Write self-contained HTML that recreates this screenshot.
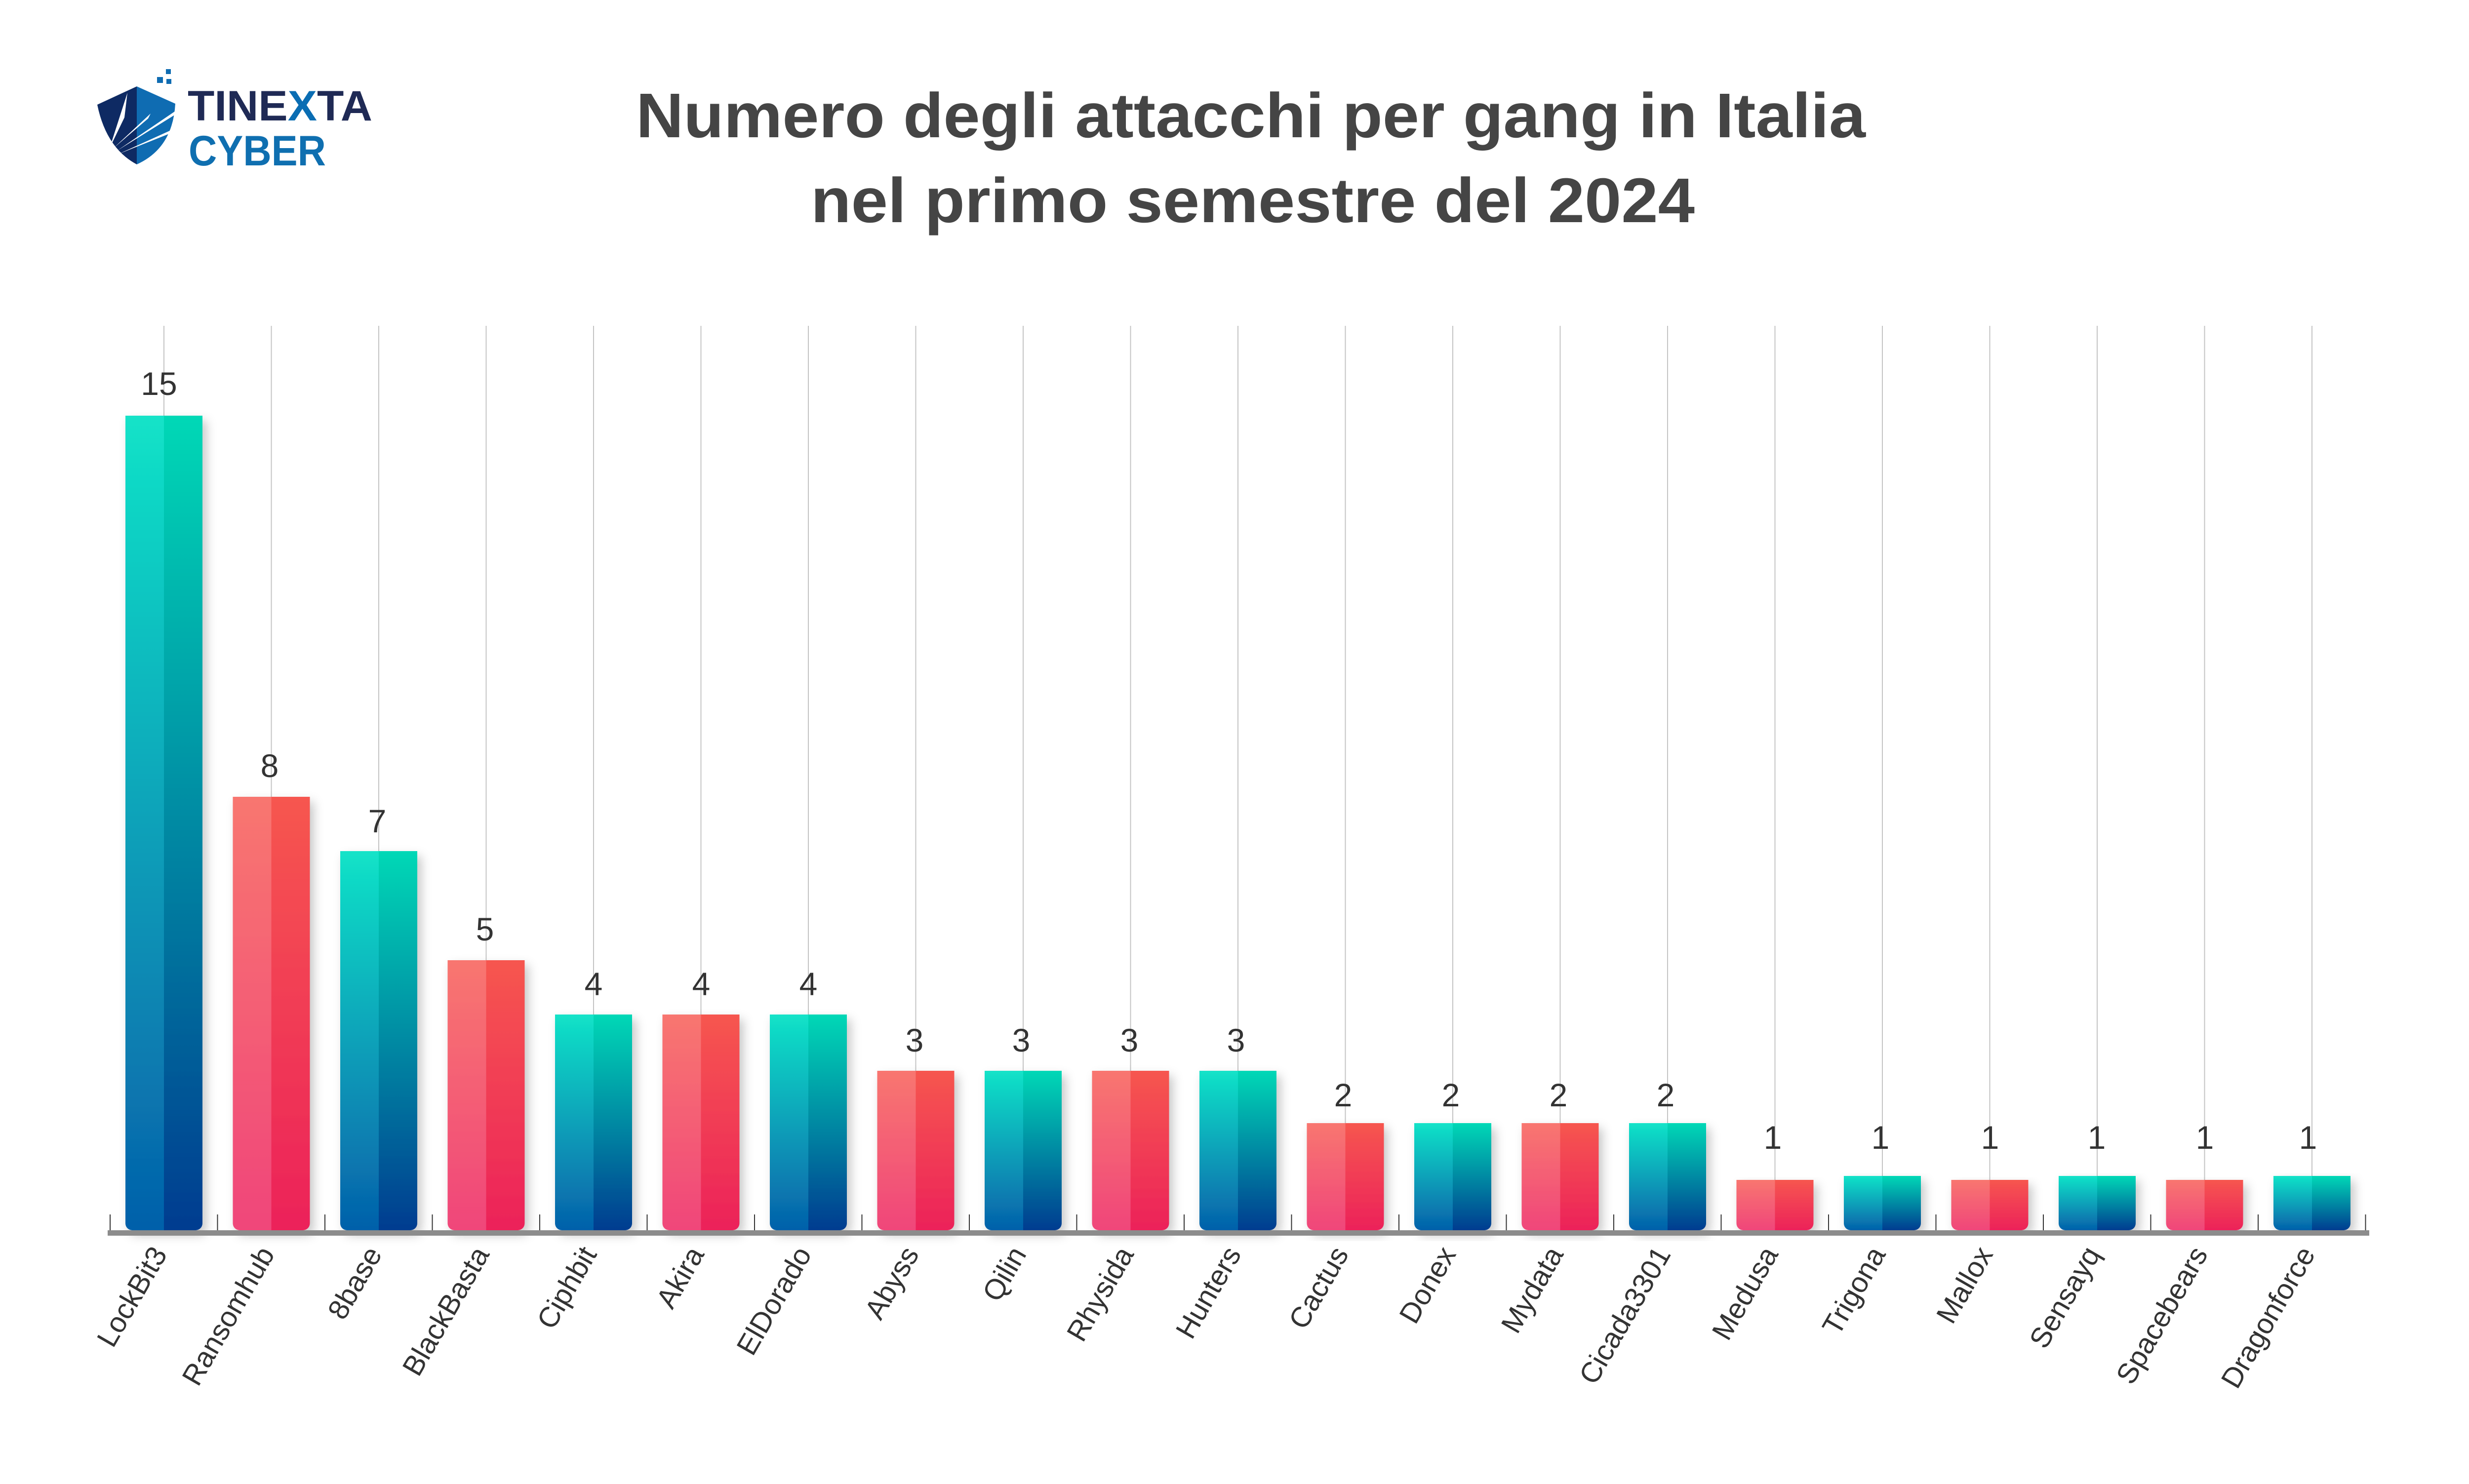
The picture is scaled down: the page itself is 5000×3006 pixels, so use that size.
<!DOCTYPE html>
<html><head><meta charset="utf-8"><style>
html,body{margin:0;padding:0;background:#fff;}
svg{display:block;}
</style></head><body>
<svg width="5000" height="3006" viewBox="0 0 5000 3006" xmlns="http://www.w3.org/2000/svg" font-family="'Liberation Sans', sans-serif">
<defs>
<linearGradient id="tL" x1="0" y1="0" x2="0" y2="1"><stop offset="0" stop-color="#12e3c8"/><stop offset="1" stop-color="#0560aa"/></linearGradient>
<linearGradient id="tR" x1="0" y1="0" x2="0" y2="1"><stop offset="0" stop-color="#06d8b6"/><stop offset="1" stop-color="#013c90"/></linearGradient>
<linearGradient id="pL" x1="0" y1="0" x2="0" y2="1"><stop offset="0" stop-color="#f87670"/><stop offset="1" stop-color="#f0467a"/></linearGradient>
<linearGradient id="pR" x1="0" y1="0" x2="0" y2="1"><stop offset="0" stop-color="#f6564f"/><stop offset="1" stop-color="#ec225a"/></linearGradient>
<filter id="sh" x="-20%" y="-5%" width="150%" height="115%"><feDropShadow dx="8" dy="10" stdDeviation="10" flood-color="#000" flood-opacity="0.22"/></filter>
<clipPath id="c0"><rect x="-78" y="-2000" width="156" height="2000" rx="14"/></clipPath>
</defs>

<g>
<path d="M197 212 L277 175 L277 333 Q215 300 197 212 Z" fill="#0e2a63"/>
<path d="M277 175 L355 210 Q350 300 277 333 Z" fill="#0f6cb2"/>
<path d="M222 362 L258 250 L252 300 Z" fill="#fff" transform="translate(0,-62)"/>
<path d="M230 300 L305 230 L300 240 Z" fill="#fff"/>
<path d="M236 306 L355 225 L355 232 Z" fill="#fff"/>
<path d="M240 312 L350 262 L350 268 Z" fill="#fff"/>
<rect x="318" y="156" width="12" height="12" fill="#0f6cb2"/>
<rect x="336" y="140" width="10" height="10" fill="#0f6cb2"/>
<rect x="337" y="160" width="10" height="10" fill="#0f6cb2"/>
<rect x="325" y="180" width="12" height="12" fill="#fff"/>
<text x="380" y="244" font-size="86" font-weight="bold" fill="#1f2a55" textLength="374" lengthAdjust="spacingAndGlyphs">TINE<tspan fill="#0a6db3">X</tspan>TA</text>
<text x="382" y="335" font-size="86" font-weight="bold" fill="#0f6fb0" textLength="278" lengthAdjust="spacingAndGlyphs">CYBER</text>
</g>

<text x="1288" y="278" font-size="128" font-weight="bold" fill="#454545" textLength="2490" lengthAdjust="spacingAndGlyphs">Numero degli attacchi per gang in Italia</text>
<text x="1642" y="450" font-size="128" font-weight="bold" fill="#454545" textLength="1790" lengthAdjust="spacingAndGlyphs">nel primo semestre del 2024</text>

<g stroke="#c4c4c4" stroke-width="2">
<line x1="332" y1="660" x2="332" y2="2492"/><line x1="549.5" y1="660" x2="549.5" y2="2492"/><line x1="767" y1="660" x2="767" y2="2492"/><line x1="984.5" y1="660" x2="984.5" y2="2492"/><line x1="1202" y1="660" x2="1202" y2="2492"/><line x1="1419.5" y1="660" x2="1419.5" y2="2492"/><line x1="1637" y1="660" x2="1637" y2="2492"/><line x1="1854.5" y1="660" x2="1854.5" y2="2492"/><line x1="2072" y1="660" x2="2072" y2="2492"/><line x1="2289.5" y1="660" x2="2289.5" y2="2492"/><line x1="2507" y1="660" x2="2507" y2="2492"/><line x1="2724.5" y1="660" x2="2724.5" y2="2492"/><line x1="2942" y1="660" x2="2942" y2="2492"/><line x1="3159.5" y1="660" x2="3159.5" y2="2492"/><line x1="3377" y1="660" x2="3377" y2="2492"/><line x1="3594.5" y1="660" x2="3594.5" y2="2492"/><line x1="3812" y1="660" x2="3812" y2="2492"/><line x1="4029.5" y1="660" x2="4029.5" y2="2492"/><line x1="4247" y1="660" x2="4247" y2="2492"/><line x1="4464.5" y1="660" x2="4464.5" y2="2492"/><line x1="4682" y1="660" x2="4682" y2="2492"/>
</g>

<g id="bars">
<g transform="translate(332,2492)" filter="url(#sh)"><g clip-path="url(#c0)"><rect x="-78" y="-1650" width="78" height="1650" fill="url(#tL)"/><rect x="0" y="-1650" width="78" height="1650" fill="url(#tR)"/></g></g>
<g transform="translate(549.5,2492)" filter="url(#sh)"><g clip-path="url(#c0)"><rect x="-78" y="-878" width="78" height="878" fill="url(#pL)"/><rect x="0" y="-878" width="78" height="878" fill="url(#pR)"/></g></g>
<g transform="translate(767,2492)" filter="url(#sh)"><g clip-path="url(#c0)"><rect x="-78" y="-768" width="78" height="768" fill="url(#tL)"/><rect x="0" y="-768" width="78" height="768" fill="url(#tR)"/></g></g>
<g transform="translate(984.5,2492)" filter="url(#sh)"><g clip-path="url(#c0)"><rect x="-78" y="-547" width="78" height="547" fill="url(#pL)"/><rect x="0" y="-547" width="78" height="547" fill="url(#pR)"/></g></g>
<g transform="translate(1202,2492)" filter="url(#sh)"><g clip-path="url(#c0)"><rect x="-78" y="-437" width="78" height="437" fill="url(#tL)"/><rect x="0" y="-437" width="78" height="437" fill="url(#tR)"/></g></g>
<g transform="translate(1419.5,2492)" filter="url(#sh)"><g clip-path="url(#c0)"><rect x="-78" y="-437" width="78" height="437" fill="url(#pL)"/><rect x="0" y="-437" width="78" height="437" fill="url(#pR)"/></g></g>
<g transform="translate(1637,2492)" filter="url(#sh)"><g clip-path="url(#c0)"><rect x="-78" y="-437" width="78" height="437" fill="url(#tL)"/><rect x="0" y="-437" width="78" height="437" fill="url(#tR)"/></g></g>
<g transform="translate(1854.5,2492)" filter="url(#sh)"><g clip-path="url(#c0)"><rect x="-78" y="-323" width="78" height="323" fill="url(#pL)"/><rect x="0" y="-323" width="78" height="323" fill="url(#pR)"/></g></g>
<g transform="translate(2072,2492)" filter="url(#sh)"><g clip-path="url(#c0)"><rect x="-78" y="-323" width="78" height="323" fill="url(#tL)"/><rect x="0" y="-323" width="78" height="323" fill="url(#tR)"/></g></g>
<g transform="translate(2289.5,2492)" filter="url(#sh)"><g clip-path="url(#c0)"><rect x="-78" y="-323" width="78" height="323" fill="url(#pL)"/><rect x="0" y="-323" width="78" height="323" fill="url(#pR)"/></g></g>
<g transform="translate(2507,2492)" filter="url(#sh)"><g clip-path="url(#c0)"><rect x="-78" y="-323" width="78" height="323" fill="url(#tL)"/><rect x="0" y="-323" width="78" height="323" fill="url(#tR)"/></g></g>
<g transform="translate(2724.5,2492)" filter="url(#sh)"><g clip-path="url(#c0)"><rect x="-78" y="-217" width="78" height="217" fill="url(#pL)"/><rect x="0" y="-217" width="78" height="217" fill="url(#pR)"/></g></g>
<g transform="translate(2942,2492)" filter="url(#sh)"><g clip-path="url(#c0)"><rect x="-78" y="-217" width="78" height="217" fill="url(#tL)"/><rect x="0" y="-217" width="78" height="217" fill="url(#tR)"/></g></g>
<g transform="translate(3159.5,2492)" filter="url(#sh)"><g clip-path="url(#c0)"><rect x="-78" y="-217" width="78" height="217" fill="url(#pL)"/><rect x="0" y="-217" width="78" height="217" fill="url(#pR)"/></g></g>
<g transform="translate(3377,2492)" filter="url(#sh)"><g clip-path="url(#c0)"><rect x="-78" y="-217" width="78" height="217" fill="url(#tL)"/><rect x="0" y="-217" width="78" height="217" fill="url(#tR)"/></g></g>
<g transform="translate(3594.5,2492)" filter="url(#sh)"><g clip-path="url(#c0)"><rect x="-78" y="-102" width="78" height="102" fill="url(#pL)"/><rect x="0" y="-102" width="78" height="102" fill="url(#pR)"/></g></g>
<g transform="translate(3812,2492)" filter="url(#sh)"><g clip-path="url(#c0)"><rect x="-78" y="-110" width="78" height="110" fill="url(#tL)"/><rect x="0" y="-110" width="78" height="110" fill="url(#tR)"/></g></g>
<g transform="translate(4029.5,2492)" filter="url(#sh)"><g clip-path="url(#c0)"><rect x="-78" y="-102" width="78" height="102" fill="url(#pL)"/><rect x="0" y="-102" width="78" height="102" fill="url(#pR)"/></g></g>
<g transform="translate(4247,2492)" filter="url(#sh)"><g clip-path="url(#c0)"><rect x="-78" y="-110" width="78" height="110" fill="url(#tL)"/><rect x="0" y="-110" width="78" height="110" fill="url(#tR)"/></g></g>
<g transform="translate(4464.5,2492)" filter="url(#sh)"><g clip-path="url(#c0)"><rect x="-78" y="-102" width="78" height="102" fill="url(#pL)"/><rect x="0" y="-102" width="78" height="102" fill="url(#pR)"/></g></g>
<g transform="translate(4682,2492)" filter="url(#sh)"><g clip-path="url(#c0)"><rect x="-78" y="-110" width="78" height="110" fill="url(#tL)"/><rect x="0" y="-110" width="78" height="110" fill="url(#tR)"/></g></g>
</g>

<g stroke="#333" stroke-width="2">
<line x1="223" y1="2460" x2="223" y2="2492"/><line x1="440.5" y1="2460" x2="440.5" y2="2492"/><line x1="658" y1="2460" x2="658" y2="2492"/><line x1="875.5" y1="2460" x2="875.5" y2="2492"/><line x1="1093" y1="2460" x2="1093" y2="2492"/><line x1="1310.5" y1="2460" x2="1310.5" y2="2492"/><line x1="1528" y1="2460" x2="1528" y2="2492"/><line x1="1745.5" y1="2460" x2="1745.5" y2="2492"/><line x1="1963" y1="2460" x2="1963" y2="2492"/><line x1="2180.5" y1="2460" x2="2180.5" y2="2492"/><line x1="2398" y1="2460" x2="2398" y2="2492"/><line x1="2615.5" y1="2460" x2="2615.5" y2="2492"/><line x1="2833" y1="2460" x2="2833" y2="2492"/><line x1="3050.5" y1="2460" x2="3050.5" y2="2492"/><line x1="3268" y1="2460" x2="3268" y2="2492"/><line x1="3485.5" y1="2460" x2="3485.5" y2="2492"/><line x1="3703" y1="2460" x2="3703" y2="2492"/><line x1="3920.5" y1="2460" x2="3920.5" y2="2492"/><line x1="4138" y1="2460" x2="4138" y2="2492"/><line x1="4355.5" y1="2460" x2="4355.5" y2="2492"/><line x1="4573" y1="2460" x2="4573" y2="2492"/><line x1="4790.5" y1="2460" x2="4790.5" y2="2492"/>
</g>
<rect x="218" y="2492" width="4580" height="11" fill="#8c8c8c"/>

<g font-size="66" fill="#333" text-anchor="middle">
<text x="322" y="800">15</text>
<text x="546" y="1574">8</text>
<text x="764" y="1686">7</text>
<text x="982" y="1905">5</text>
<text x="1202" y="2016">4</text>
<text x="1420" y="2016">4</text>
<text x="1637" y="2016">4</text>
<text x="1852" y="2130">3</text>
<text x="2068" y="2130">3</text>
<text x="2287" y="2130">3</text>
<text x="2503" y="2130">3</text>
<text x="2720" y="2241">2</text>
<text x="2938" y="2241">2</text>
<text x="3156" y="2241">2</text>
<text x="3373" y="2241">2</text>
<text x="3590" y="2327">1</text>
<text x="3808" y="2327">1</text>
<text x="4030" y="2327">1</text>
<text x="4246" y="2327">1</text>
<text x="4465" y="2327">1</text>
<text x="4674" y="2327">1</text>
</g>

<g font-size="58" fill="#333" text-anchor="end">
<text transform="translate(340,2540) rotate(-60)">LockBit3</text>
<text transform="translate(557.5,2540) rotate(-60)">Ransomhub</text>
<text transform="translate(775,2540) rotate(-60)">8base</text>
<text transform="translate(992.5,2540) rotate(-60)">BlackBasta</text>
<text transform="translate(1210,2540) rotate(-60)">Ciphbit</text>
<text transform="translate(1427.5,2540) rotate(-60)">Akira</text>
<text transform="translate(1645,2540) rotate(-60)">ElDorado</text>
<text transform="translate(1862.5,2540) rotate(-60)">Abyss</text>
<text transform="translate(2080,2540) rotate(-60)">Qilin</text>
<text transform="translate(2297.5,2540) rotate(-60)">Rhysida</text>
<text transform="translate(2515,2540) rotate(-60)">Hunters</text>
<text transform="translate(2732.5,2540) rotate(-60)">Cactus</text>
<text transform="translate(2950,2540) rotate(-60)">Donex</text>
<text transform="translate(3167.5,2540) rotate(-60)">Mydata</text>
<text transform="translate(3385,2540) rotate(-60)">Cicada3301</text>
<text transform="translate(3602.5,2540) rotate(-60)">Medusa</text>
<text transform="translate(3820,2540) rotate(-60)">Trigona</text>
<text transform="translate(4037.5,2540) rotate(-60)">Mallox</text>
<text transform="translate(4255,2540) rotate(-60)">Sensayq</text>
<text transform="translate(4472.5,2540) rotate(-60)">Spacebears</text>
<text transform="translate(4690,2540) rotate(-60)">Dragonforce</text>
</g>
</svg>
</body></html>
